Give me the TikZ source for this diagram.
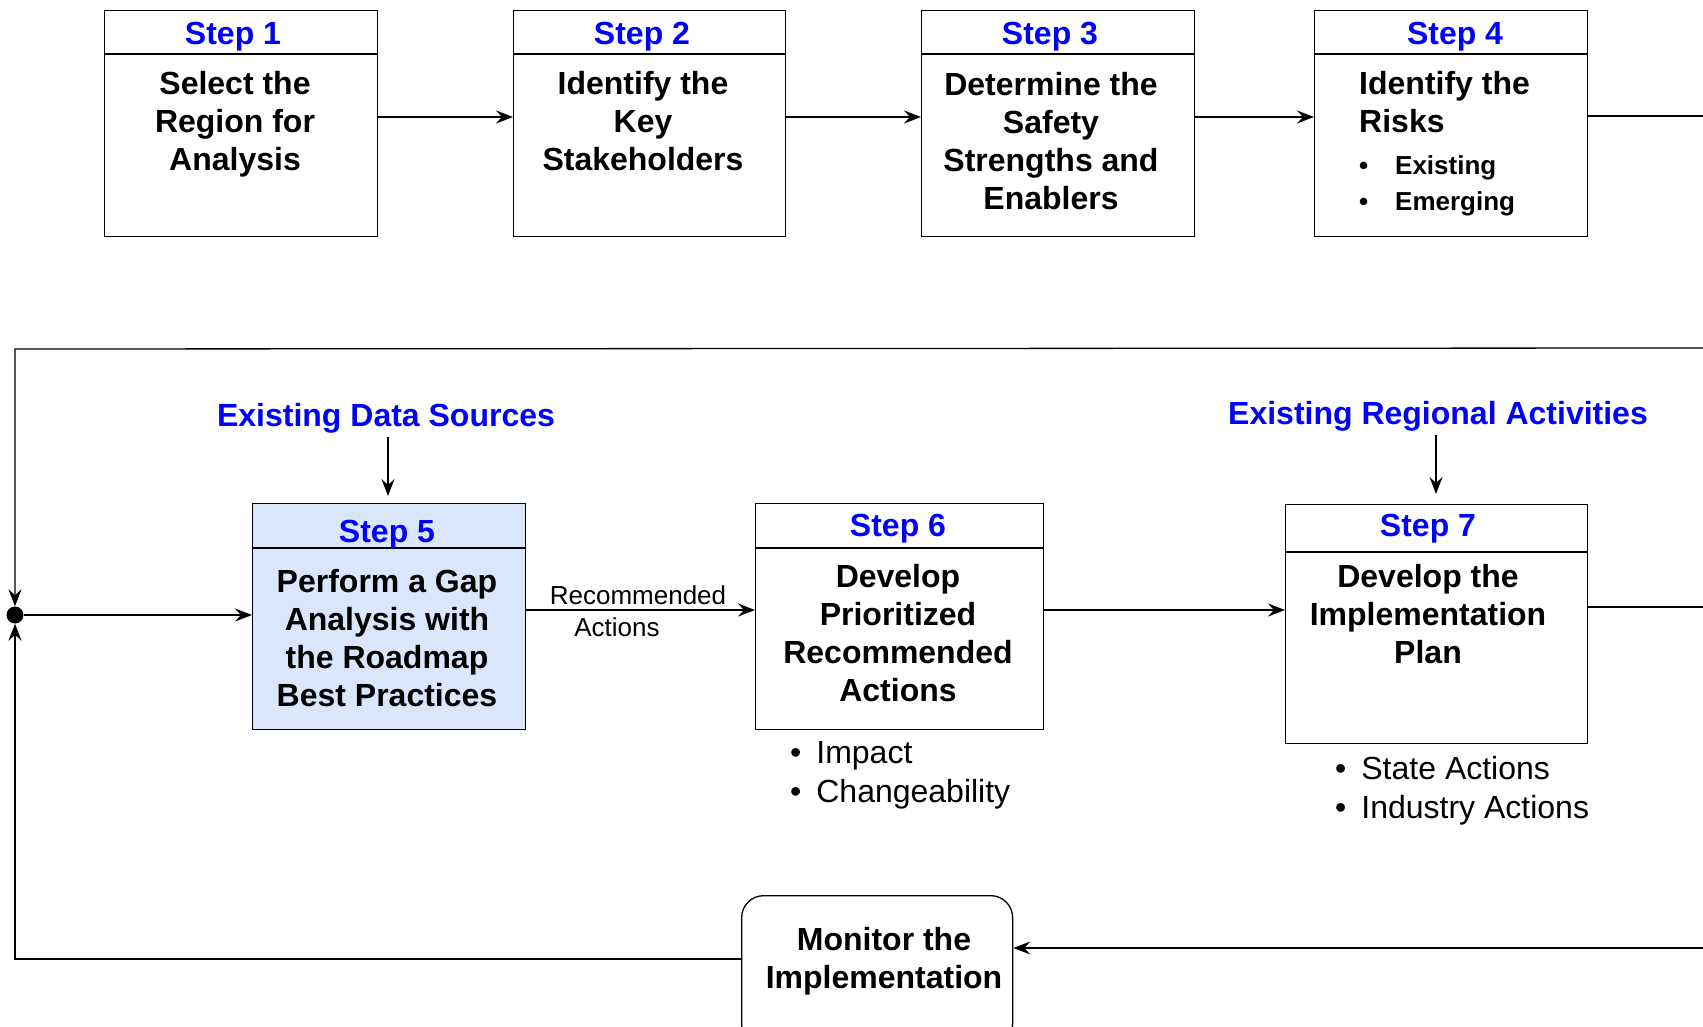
\documentclass[tikz,border=0pt]{standalone}
\usepackage{fontspec}
\setmainfont{Liberation Sans}
\usetikzlibrary{arrows.meta,calc}
\definecolor{stepblue}{RGB}{0,0,255}
\definecolor{gapfill}{RGB}{218,230,251}
\begin{document}
\begin{tikzpicture}[x=1pt,y=-1pt,
  stepbox/.style={draw=black, line width=1.3pt, anchor=north west, inner sep=0pt},
  divider/.style={draw=black, line width=1.3pt},
  conn/.style={draw=black, line width=1.3pt},
  arr/.style={conn, -{Stealth[length=17pt,width=13pt,inset=6pt]}},
  steptitle/.style={text=stepblue, inner sep=0pt, font=\fontsize{32}{38}\selectfont\bfseries},
  body/.style={inner sep=0pt, align=center, font=\fontsize{32}{38}\selectfont\bfseries},
  bodyl/.style={inner sep=0pt, align=left, anchor=west, font=\fontsize{32}{38}\selectfont\bfseries},
  smallbold/.style={inner sep=0pt, align=left, anchor=west, font=\fontsize{26}{36}\selectfont\bfseries},
  note/.style={inner sep=0pt, align=left, anchor=west, font=\fontsize{32}{39}\selectfont},
  label/.style={inner sep=0pt, font=\fontsize{26}{30}\selectfont},
  source/.style={text=stepblue, inner sep=0pt, font=\fontsize{32}{38}\selectfont\bfseries}]
\clip (0,0) rectangle (1703,1027);
\useasboundingbox (0,0) rectangle (1703,1027);

% ---------- top row ----------
\node[stepbox, minimum width=273pt, minimum height=226pt] (s1) at (104,10) {};
\node[stepbox, minimum width=272pt, minimum height=226pt] (s2) at (513,10) {};
\node[stepbox, minimum width=273pt, minimum height=226pt] (s3) at (921,10) {};
\node[stepbox, minimum width=273pt, minimum height=226pt] (s4) at (1314,10) {};
\foreach \b in {s1,s2,s3,s4}{
  \draw[divider] ([yshift=-44pt]\b.north west) -- ([yshift=-44pt]\b.north east);
}
\node[steptitle] (s1t) at (233,37) {Step 1};
\node[steptitle] (s2t) at (642,37) {Step 2};
\node[steptitle] (s3t) at (1050,37) {Step 3};
\node[steptitle] (s4t) at (1455,37) {Step 4};
\node[body] (s1b) at (235,124) {Select the\\Region for\\Analysis};
\node[body] (s2b) at (643,121) {Identify the\\Key\\Stakeholders};
\node[body] (s3b) at (1051,141) {Determine the\\Safety\\Strengths and\\Enablers};
\node[bodyl] (s4b) at (1359,102) {Identify the\\Risks};
\node[smallbold] (s4l) at (1359,186) {\makebox[36pt][l]{\textbullet}Existing\\\makebox[36pt][l]{\textbullet}Emerging};

\coordinate (r1) at (0,117);
\coordinate (e1) at (1703,116);
\draw[arr] (s1.east |- r1) -- (s2.west |- r1);
\draw[arr] (s2.east |- r1) -- (s3.west |- r1);
\draw[arr] (s3.east |- r1) -- (s4.west |- r1);
\draw[conn] (s4.east |- e1) -- (e1);

% ---------- loop and junction ----------
\node[circle, fill=black, inner sep=0pt, minimum size=17pt] (j) at (15,615) {};
\coordinate (e2) at (1703,348);
\coordinate (tl) at (15,349);
\coordinate (bl) at (15,959);
\draw[arr] (e2) -- (tl) -- (j);

% ---------- middle row ----------
\node[stepbox, fill=gapfill, minimum width=273pt, minimum height=226pt] (s5) at (252,503) {};
\node[stepbox, minimum width=288pt, minimum height=226pt] (s6) at (755,503) {};
\node[stepbox, minimum width=302pt, minimum height=239pt] (s7) at (1285,504) {};
\draw[divider] ([yshift=-45pt]s5.north west) -- ([yshift=-45pt]s5.north east);
\draw[divider] ([yshift=-45pt]s6.north west) -- ([yshift=-45pt]s6.north east);
\draw[divider] ([yshift=-48pt]s7.north west) -- ([yshift=-48pt]s7.north east);
\node[steptitle] (s5t) at (387,535) {Step 5};
\node[steptitle] (s6t) at (898,529) {Step 6};
\node[steptitle] (s7t) at (1428,529) {Step 7};
\node[body] (s5b) at (387,638) {Perform a Gap\\Analysis with\\the Roadmap\\Best Practices};
\node[body] (s6b) at (898,633) {Develop\\Prioritized\\Recommended\\Actions};
\node[body] (s7b) at (1428,614) {Develop the\\Implementation\\Plan};

\node[source] (ds) at (386,418) {Existing Data Sources};
\node[source] (ra) at (1438,416) {Existing Regional Activities};
\draw[arr, shorten <=4pt, shorten >=7pt] (ds.south -| 388,0) -- (388,503);
\draw[arr, shorten <=4pt, shorten >=10pt] (ra.south -| 1436,0) -- (1436,504);

\node[note] (s6n) at (790,775) {\textbullet\hspace{15pt}Impact\\\textbullet\hspace{15pt}Changeability};
\node[note] (s7n) at (1335,791) {\textbullet\hspace{15pt}State Actions\\\textbullet\hspace{15pt}Industry Actions};

\coordinate (r2) at (0,610);
\coordinate (e3) at (1703,607);
\draw[arr] (j) -- (s5.west |- j);
\draw[arr] (s5.east |- r2) -- (s6.west |- r2);
\node[label] (rec1) at (638,595) {Recommended};
\node[label] (rec2) at (617,627) {Actions};
\draw[arr] (s6.east |- r2) -- (s7.west |- r2);
\draw[conn] (s7.east |- e3) -- (e3);

% ---------- monitor ----------
\node[draw=black, line width=1.3pt, rounded corners=22pt, anchor=north west, inner sep=0pt,
      minimum width=271pt, minimum height=150pt] (mon) at (741,895) {};
\node[body] (mont) at (884,961) {Monitor the\\Implementation};
\coordinate (e4) at (1703,948);
\draw[arr] (e4) -- (e4 -| mon.east);
\draw[arr] (mon.west |- bl) -- (bl) -- (j);
\end{tikzpicture}
\end{document}
